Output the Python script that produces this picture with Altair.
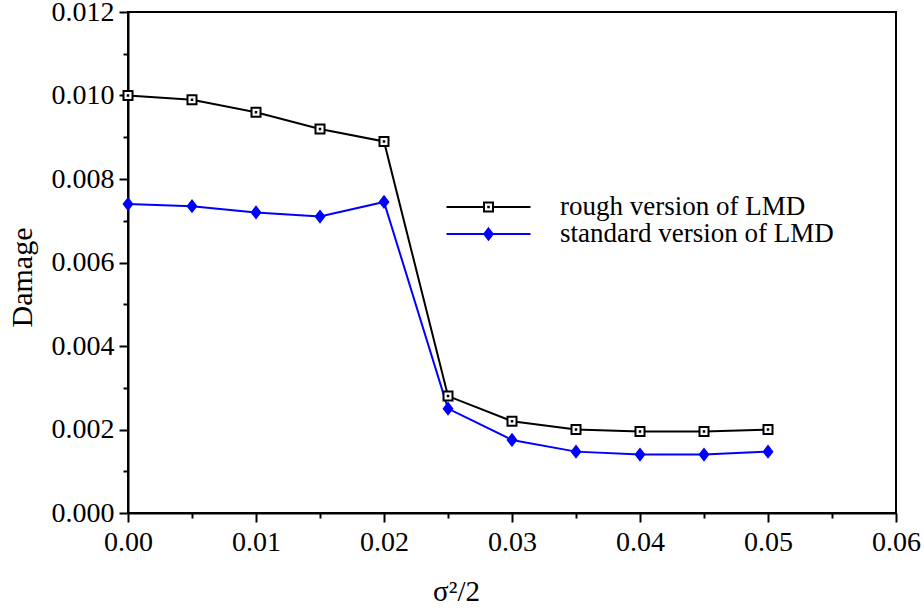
import altair as alt
import pandas as pd

x_vals = [0.000, 0.005, 0.010, 0.015, 0.020, 0.025, 0.030, 0.035, 0.040, 0.045, 0.050]
rough = [0.0100, 0.0099, 0.0096, 0.0092, 0.0089, 0.0028, 0.0022, 0.0020, 0.00195, 0.00195, 0.0020]
standard = [0.0074, 0.00735, 0.0072, 0.0071, 0.00745, 0.0025, 0.00175, 0.00147, 0.0014, 0.0014, 0.00147]
series_names = ["rough version of LMD", "standard version of LMD"]

rows = []
for name, vals in zip(series_names, [rough, standard]):
    for xv, yv in zip(x_vals, vals):
        rows.append({"x": xv, "y": yv, "series": name})
df = pd.DataFrame(rows)

FONT = "Liberation Serif"
x_ticks = [round(i * 0.005, 3) for i in range(13)]
y_ticks = [round(i * 0.001, 3) for i in range(13)]

x_axis = alt.Axis(
    values=x_ticks,
    labelExpr="round(datum.value*1000) % 10 == 0 ? format(datum.value, '.2f') : ''",
    tickSize={"condition": {"test": "round(datum.value*1000) % 10 == 0", "value": 9}, "value": 5},
    labelPadding=6, labelFont=FONT, labelFontSize=28, labelColor="black", labelFlush=False,
    title="σ²/2", titleFont=FONT, titleFontSize=29, titleFontWeight="normal", titleColor="black",
    titleX=328, titleY=87, titleBaseline="alphabetic", titleAlign="center",
)
y_axis = alt.Axis(
    values=y_ticks,
    labelExpr="round(datum.value*1000) % 2 == 0 ? format(datum.value, '.3f') : ''",
    tickSize={"condition": {"test": "round(datum.value*1000) % 2 == 0", "value": 9}, "value": 5},
    labelPadding=5, labelFont=FONT, labelFontSize=28, labelColor="black", labelFlush=False,
    title="Damage", titleFont=FONT, titleFontSize=30, titleFontWeight="normal", titleColor="black",
    titleX=-97, titleY=265, titleBaseline="alphabetic", titleAlign="center", titleAngle=270,
)

X = alt.X("x:Q", scale=alt.Scale(domain=[0, 0.06], nice=False, zero=False), axis=x_axis)
Y = alt.Y("y:Q", scale=alt.Scale(domain=[0, 0.012], nice=False), axis=y_axis)

marker_paths = [
    "M-0.9,-0.9H0.9V0.9H-0.9Z M-0.05,-0.05H0.05V0.05H-0.05Z",
    "M0,-1.1L0.85,0L0,1.1L-0.85,0Z",
]
legend_paths = [
    "M-2.6,0H4.9M6.7,0H14.2M4.9,-0.9H6.7V0.9H4.9Z M5.75,-0.05H5.85V0.05H5.75Z",
    "M-2.6,0H14.2M5.8,-1.1L6.65,0L5.8,1.1L4.95,0Z",
]


def stroke_enc(legend):
    return alt.Stroke("series:N", scale=alt.Scale(domain=series_names, range=["black", "blue"]), legend=legend)


def fill_enc(legend):
    return alt.Fill("series:N", scale=alt.Scale(domain=series_names, range=["white", "blue"]), legend=legend)


lines = alt.Chart(df).mark_line(strokeWidth=2).encode(
    x=X, y=Y,
    stroke=stroke_enc(None),
    detail="series:N",
)

points = alt.Chart(df).mark_point(size=100, strokeWidth=2, opacity=1, filled=False).encode(
    x=X, y=Y,
    shape=alt.Shape("series:N", scale=alt.Scale(domain=series_names, range=marker_paths), legend=None),
    stroke=stroke_enc(None),
    fill=fill_enc(None),
)

leg = alt.Legend(
    orient="none", legendX=318, legendY=183, title=None, padding=0,
    labelFont=FONT, labelFontSize=27, labelColor="black", labelOffset=87, labelLimit=400,
    symbolSize=100, symbolStrokeWidth=2, symbolOpacity=1, clipHeight=24, rowPadding=0,
)
legend_layer = alt.Chart(df).mark_point(size=100, strokeWidth=2, opacity=0, filled=False).encode(
    x=X, y=Y,
    shape=alt.Shape("series:N", scale=alt.Scale(domain=series_names, range=legend_paths), legend=leg),
    stroke=stroke_enc(leg),
    fill=fill_enc(leg),
)

chart = alt.layer(lines, points, legend_layer).resolve_scale(
    shape="independent", stroke="independent", fill="independent"
).resolve_legend(
    shape="independent", stroke="independent", fill="independent"
).properties(
    width=768, height=501,
    padding={"left": 128, "top": 12, "right": 28, "bottom": 98},
    autosize=alt.AutoSizeParams(type="none"),
    background="white",
).configure_view(
    stroke="black", strokeWidth=2
).configure_axis(
    grid=False,
    domainColor="black", domainWidth=2,
    tickColor="black", tickWidth=2,
)

chart.save("out.html", embed_options={"renderer": "svg", "actions": False})
